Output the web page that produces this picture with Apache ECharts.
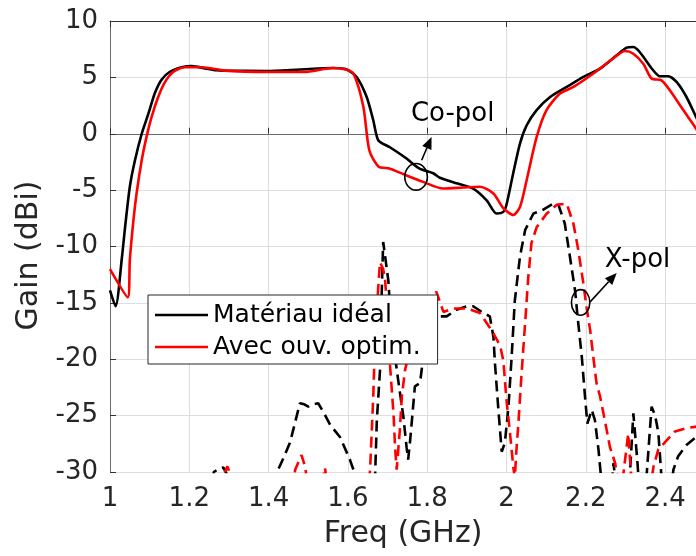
<!DOCTYPE html>
<html><head><meta charset="utf-8">
<script src="https://cdn.jsdelivr.net/npm/echarts@6/dist/echarts.min.js"></script>
<style>html,body{margin:0;padding:0;background:#fff;overflow:hidden}#c{width:696px;height:556px}</style>
</head><body><div id="c"></div>
<script>
// ---- Data ----
const copolIdealFreq = [1.000,1.014,1.030,1.038,1.050,1.063,1.080,1.097,1.113,1.130,1.151,1.181,1.206,1.240,1.269,1.290,1.395,1.479,1.563,1.597,1.622,1.647,1.664,1.677,1.706,1.748,1.781,1.815,1.832,1.874,1.916,1.950,1.975,1.992,2.000,2.017,2.034,2.051,2.076,2.110,2.152,2.194,2.236,2.278,2.303,2.320,2.336,2.370,2.387,2.408,2.429,2.454,2.478,2.500];
const copolIdealGain = [-13.9,-15.3,-11.0,-8.3,-4.7,-2.35,0.0,1.8,3.6,4.8,5.5,5.9,6.0,5.8,5.63,5.6,5.57,5.7,5.83,5.7,5.04,3.3,1.2,-0.6,-1.2,-2.2,-3.1,-3.5,-3.9,-4.4,-4.86,-5.9,-7.07,-6.93,-6.3,-3.5,-0.87,0.75,2.1,3.26,4.15,5.04,5.78,6.96,7.64,7.7,7.25,5.63,5.1,5.1,4.6,3.26,1.5,0.0];

const copolOptimFreq = [1.000,1.045,1.050,1.059,1.067,1.080,1.092,1.105,1.122,1.139,1.160,1.189,1.231,1.290,1.395,1.490,1.563,1.594,1.614,1.639,1.654,1.677,1.706,1.748,1.790,1.840,1.891,1.933,1.967,1.992,2.017,2.034,2.051,2.076,2.101,2.135,2.169,2.219,2.269,2.299,2.320,2.345,2.366,2.391,2.412,2.446,2.478,2.500];
const copolOptimGain = [-12.0,-14.5,-11.2,-7.7,-5.3,-2.35,-0.3,1.5,3.3,4.6,5.5,5.9,5.9,5.6,5.48,5.48,5.83,5.7,5.34,2.4,-1.46,-2.9,-3.1,-3.7,-4.27,-4.86,-4.77,-4.7,-5.3,-6.6,-7.2,-6.5,-4.1,-0.3,2.1,3.56,4.15,5.34,6.67,7.34,7.1,6.2,4.9,4.74,3.86,2.1,0.46,-1.0];

const xpolIdealFreq = [1.000,1.250,1.262,1.275,1.286,1.296,1.310,1.410,1.420,1.437,1.454,1.479,1.490,1.500,1.512,1.525,1.540,1.555,1.580,1.605,1.614,1.625,1.660,1.668,1.673,1.681,1.685,1.689,1.702,1.710,1.727,1.740,1.748,1.752,1.757,1.769,1.782,1.790,1.807,1.828,1.849,1.874,1.900,1.916,1.942,1.958,1.967,1.971,1.979,1.988,1.996,2.005,2.013,2.021,2.034,2.047,2.068,2.089,2.118,2.131,2.147,2.160,2.173,2.181,2.190,2.198,2.204,2.215,2.223,2.232,2.240,2.262,2.270,2.278,2.310,2.320,2.330,2.336,2.352,2.366,2.375,2.383,2.392,2.410,2.421,2.433,2.454,2.475,2.500];
const xpolIdealGain = [-40,-33,-30.0,-29.7,-29.6,-30.3,-33,-33,-30.1,-28.8,-27.4,-23.9,-24.0,-24.2,-24.0,-23.9,-24.8,-25.8,-26.9,-28.9,-29.8,-32,-35,-31,-25.4,-21.0,-14.5,-9.6,-13.0,-17.4,-21.9,-25.1,-27.8,-28.9,-27.2,-22.4,-22.1,-19.8,-17.4,-16.2,-16.2,-15.6,-15.3,-15.3,-15.9,-16.2,-18.0,-20.4,-24.2,-28.2,-27.4,-24.2,-19.8,-14.8,-10.9,-8.55,-7.07,-6.8,-6.2,-6.3,-7.96,-10.9,-13.9,-16.8,-19.8,-23.3,-25.7,-24.5,-25.4,-28.0,-31,-33,-29.2,-32,-31,-24.8,-29,-32,-31,-24.2,-25,-26.5,-31,-33,-29.8,-28.6,-27.6,-27.0,-26.5];

const xpolOptimFreq = [1.000,1.280,1.290,1.296,1.303,1.315,1.455,1.467,1.483,1.492,1.500,1.535,1.542,1.548,1.645,1.656,1.664,1.668,1.676,1.681,1.689,1.694,1.702,1.706,1.715,1.719,1.723,1.731,1.736,1.744,1.757,1.790,1.823,1.841,1.866,1.900,1.933,1.958,1.967,1.984,1.992,2.000,2.009,2.017,2.021,2.025,2.030,2.038,2.047,2.055,2.063,2.076,2.101,2.127,2.152,2.169,2.181,2.194,2.202,2.211,2.219,2.227,2.236,2.248,2.261,2.274,2.282,2.292,2.307,2.316,2.360,2.371,2.383,2.404,2.425,2.454,2.475,2.500];
const xpolOptimGain = [-40,-33,-30.0,-29.5,-30.2,-33,-33,-29.8,-28.5,-29.5,-31.5,-31,-29.6,-31,-34,-29.8,-23.3,-18.9,-13.9,-11.4,-12.0,-13.0,-17.4,-20.4,-24.8,-27.8,-29.8,-26.3,-23.3,-21.0,-18.9,-16.0,-14.0,-15.8,-15.5,-15.5,-15.9,-17.2,-17.7,-18.8,-20.1,-23.6,-26.6,-29.5,-30.5,-28.1,-25.7,-21.3,-16.8,-12.7,-9.7,-8.3,-7.1,-6.3,-6.2,-8.0,-10.3,-13.3,-15.4,-17.4,-19.8,-22.1,-23.3,-25.4,-27.8,-29.2,-31,-31,-26.6,-31,-32,-29.5,-28.0,-27.2,-26.4,-26.1,-26.0,-25.8];

const legendNames = ['Matériau idéal', 'Avec ouv. optim.'];
const xTickValues = [1, 1.2, 1.4, 1.6, 1.8, 2, 2.2, 2.4];
const yTickValues = [-30, -25, -20, -15, -10, -5, 0, 5, 10];

// ---- Chart ----
const FONT = 'DejaVu Sans';
const chart = echarts.init(document.getElementById('c'), null, {renderer: 'canvas'});
const zip = (f, g) => f.map((v, i) => [v, g[i]]);
const X_MAX = 2.478; // the plot is cut at the right edge of the picture

const axisCommon = {
  type: 'value',
  axisLine: {show: true, lineStyle: {color: '#6b6b6b', width: 1}},
  axisTick: {show: true, inside: true, length: 6, lineStyle: {color: '#333'}},
  splitLine: {show: true, lineStyle: {color: '#dedede', width: 1}},
  axisLabel: {fontFamily: FONT, fontSize: 26, color: '#262626'}
};
const xFormatter = v => xTickValues.some(t => Math.abs(t - v) < 1e-6) ? String(+v.toFixed(1)) : '';

chart.setOption({
  animation: false,
  backgroundColor: '#fff',
  grid: {left: 110, top: 21, right: 0, bottom: 84, containLabel: false},
  xAxis: [
    Object.assign({}, axisCommon, {
      min: 1, max: X_MAX, interval: 0.2,
      name: 'Freq (GHz)', nameLocation: 'middle', nameGap: 47,
      nameTextStyle: {fontFamily: FONT, fontSize: 30, color: '#262626'},
      axisLabel: Object.assign({}, axisCommon.axisLabel, {margin: 14, showMaxLabel: false, formatter: xFormatter})
    }),
    Object.assign({}, axisCommon, {
      position: 'top', min: 1, max: X_MAX, interval: 0.2,
      axisLine: {show: true, lineStyle: {color: '#333', width: 1}},
      axisLabel: {show: false}, splitLine: {show: false}
    })
  ],
  yAxis: [
    Object.assign({}, axisCommon, {
      min: yTickValues[0], max: yTickValues[yTickValues.length - 1], interval: 5,
      name: 'Gain (dBi)', nameLocation: 'middle', nameGap: 63, nameRotate: 90,
      nameTextStyle: {fontFamily: FONT, fontSize: 30, color: '#262626', padding: [0, 18, 0, 0]},
      axisLabel: Object.assign({}, axisCommon.axisLabel, {margin: 12})
    })
  ],
  legend: {
    data: legendNames, orient: 'vertical', left: 148, top: 295,
    icon: 'rect', itemWidth: 53, itemHeight: 2.5, itemGap: 2,
    backgroundColor: '#fff', borderColor: '#262626', borderWidth: 1, borderRadius: 0,
    padding: [5, 17, 2, 7], selectedMode: false,
    textStyle: {fontFamily: FONT, fontSize: 25, color: '#000', lineHeight: 30}
  },
  series: [
    {name: legendNames[0], type: 'line', data: zip(copolIdealFreq, copolIdealGain), showSymbol: false, symbol: 'none',
     smooth: 0.25, clip: true, lineStyle: {color: '#000', width: 2.6}, itemStyle: {color: '#000'}, z: 2},
    {name: legendNames[0] + ' X', type: 'line', data: zip(xpolIdealFreq, xpolIdealGain), showSymbol: false, symbol: 'none',
     smooth: false, clip: true, lineStyle: {color: '#000', width: 2.6, type: [11, 6]}, itemStyle: {color: '#000'}, z: 2},
    {name: legendNames[1], type: 'line', data: zip(copolOptimFreq, copolOptimGain), showSymbol: false, symbol: 'none',
     smooth: 0.25, clip: true, lineStyle: {color: '#ff0000', width: 2.6}, itemStyle: {color: '#ff0000'}, z: 3},
    {name: legendNames[1] + ' X', type: 'line', data: zip(xpolOptimFreq, xpolOptimGain), showSymbol: false, symbol: 'none',
     smooth: false, clip: true, lineStyle: {color: '#ff0000', width: 2.6, type: [11, 6]}, itemStyle: {color: '#ff0000'}, z: 3}
  ]
});

// ---- Annotations anchored in data coordinates ----
const px = (f, g) => chart.convertToPixel({xAxisIndex: 0, yAxisIndex: 0}, [f, g]);
function arrow(a, b) {
  const p = px(a[0], a[1]), q = px(b[0], b[1]);
  const dx = q[0] - p[0], dy = q[1] - p[1], L = Math.hypot(dx, dy), ux = dx / L, uy = dy / L;
  const hl = 12, hw = 5, bx = q[0] - ux * hl, by = q[1] - uy * hl;
  return [
    {type: 'line', shape: {x1: p[0], y1: p[1], x2: bx, y2: by}, style: {stroke: '#000', lineWidth: 1.6}, z: 100},
    {type: 'polygon', shape: {points: [[q[0], q[1]], [bx - uy * hw, by + ux * hw], [bx + uy * hw, by - ux * hw]]}, style: {fill: '#000'}, z: 100}
  ];
}
function ellipse(c, rx, ry) {
  const p = px(c[0], c[1]);
  return {type: 'ellipse', shape: {cx: p[0], cy: p[1], rx: rx, ry: ry}, style: {fill: 'none', stroke: '#000', lineWidth: 1.6}, z: 100};
}
function label(t, at) {
  const p = px(at[0], at[1]);
  return {type: 'text', x: p[0], y: p[1], style: {text: t, fontFamily: FONT, fontSize: 26, fill: '#000', verticalAlign: 'middle', align: 'left'}, z: 100};
}
chart.setOption({graphic: [].concat(
  [ellipse([1.772, -3.82], 11.3, 13.3)], arrow([1.786, -2.35], [1.811, -0.28]), [label('Co-pol', [1.759, 1.73])],
  [ellipse([2.187, -14.96], 9.2, 12.8)], arrow([2.211, -14.91], [2.278, -12.34]), [label('X-pol', [2.248, -11.2])]
)});
</script>
</body></html>
